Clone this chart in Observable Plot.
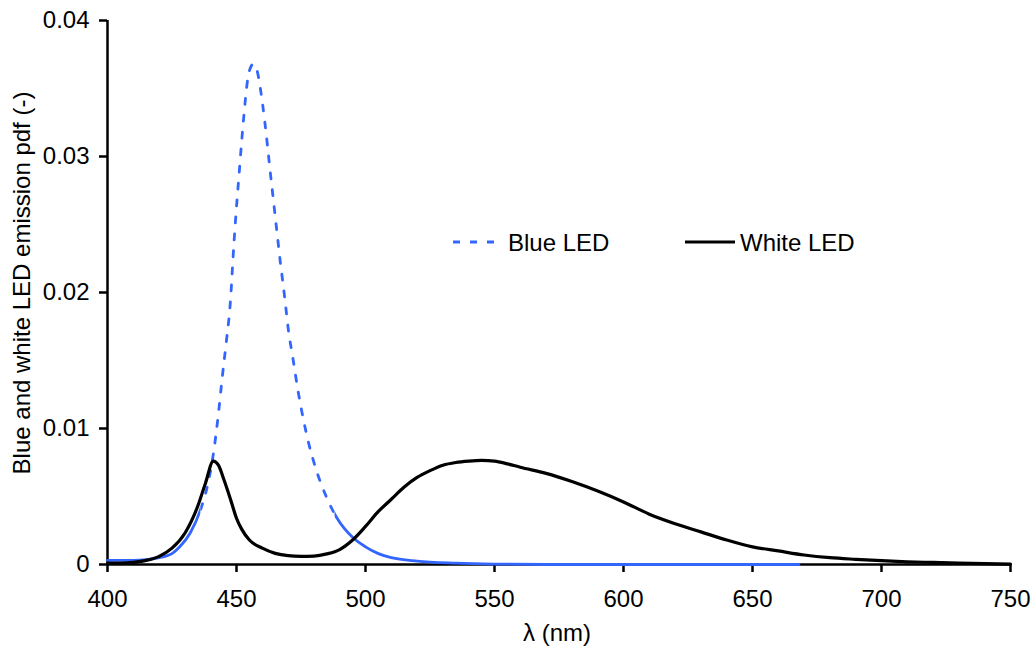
<!DOCTYPE html>
<html><head><meta charset="utf-8">
<script src="https://cdn.jsdelivr.net/npm/d3@7"></script>
<script src="https://cdn.jsdelivr.net/npm/@observablehq/plot@0.6"></script>
<style>body{margin:0;background:#fff}</style>
</head><body><div id="chart"></div>
<script>
// ---- data ----
const xTicks = [400, 450, 500, 550, 600, 650, 700, 750];
const yTicks = [0, 0.01, 0.02, 0.03, 0.04];
const seriesNames = ["Blue LED", "White LED"];

const blueX = [400,410,415,420,425,428,432,436,439,441,443,444.5,446,447.5,449,450,451,452,453,454,455,456.5,458,459,460,461,462,463,464,465,466,467,468,469,470,472,474,476,478,481,485,489,495,500,505,510,520,535,550,570,620,668];
const blueY = [0.0003,0.0003,0.00035,0.0005,0.0008,0.0013,0.0023,0.0040,0.0060,0.0081,0.0111,0.0138,0.0163,0.0190,0.0236,0.0263,0.0287,0.0311,0.0333,0.0352,0.0363,0.0368,0.0363,0.0353,0.0340,0.0325,0.0308,0.0290,0.0273,0.0256,0.0239,0.0222,0.0207,0.0191,0.0174,0.0150,0.0126,0.0106,0.0089,0.0069,0.0049,0.0034,0.0020,0.0013,0.0008,0.0005,0.00025,0.0001,0.00003,0,0,0];

const whiteX = [400,405,410,415,420,425,430,435,438,441,443,445,448,450,452,455,460,465,470,475,480,485,490,495,500,505,510,515,520,525,530,535,540,545,550,555,560,570,580,590,600,610,620,630,640,650,660,670,680,690,700,710,720,730,740,750];
const whiteY = [0.0001,0.0001,0.00015,0.0003,0.0006,0.0012,0.0023,0.0043,0.0060,0.0076,0.0073,0.0063,0.0046,0.0034,0.0026,0.0018,0.0012,0.00082,0.00065,0.0006,0.00062,0.00078,0.0011,0.0018,0.0028,0.0039,0.0048,0.0057,0.0064,0.0069,0.0073,0.0075,0.0076,0.00765,0.0076,0.0074,0.00715,0.0067,0.0061,0.0054,0.0046,0.0037,0.0030,0.0024,0.0018,0.0013,0.0010,0.0007,0.0005,0.00038,0.00028,0.0002,0.00015,0.0001,0.00006,0.00003];

// wavelength range where the blue series is drawn dashed (elsewhere it looks solid)
const blueDashedRange = [436, 488];

const blueColor = "#3366FF";
const blue = blueX.map((x, i) => ({x, y: blueY[i]}));
const white = whiteX.map((x, i) => ({x, y: whiteY[i]}));

const font = "'Liberation Sans', Arial, sans-serif";
const lineOpts = {x: "x", y: "y", curve: "monotone-x"};
const W = 1034, H = 649, ML = 107, MR = 24;

const chart = Plot.plot({
  width: W, height: H,
  marginLeft: ML, marginRight: MR, marginTop: 20, marginBottom: 85,
  style: {fontFamily: font, fontSize: "24px", background: "white", color: "black"},
  x: {domain: [400, 750], ticks: xTicks, tickSize: 8, tickPadding: 17, label: null, tickFormat: d => String(d)},
  y: {domain: [0, 0.04], ticks: yTicks, tickSize: 8, tickPadding: 10, label: null,
      tickFormat: d => d === 0 ? "0" : d3.format(".2f")(d)},
  marks: [
    Plot.ruleX([400], {strokeWidth: 2.5, stroke: "black"}),
    Plot.ruleY([0], {strokeWidth: 2.5, stroke: "black"}),
    Plot.line(blue, {...lineOpts, stroke: blueColor, strokeWidth: 2.8}),
    Plot.line(blue, {...lineOpts, stroke: blueColor, strokeWidth: 2.8, strokeDasharray: "6,11"}),
    Plot.line(blue, {...lineOpts, stroke: blueColor, strokeWidth: 2.8}),
    Plot.line(white, {...lineOpts, stroke: "black", strokeWidth: 3.2})
  ]
});

const svg = d3.select(chart);
svg.selectAll('g[aria-label^="x-axis"] path, g[aria-label^="x-axis"] line, g[aria-label^="y-axis"] path, g[aria-label^="y-axis"] line')
  .attr("stroke-width", 2.5).attr("stroke", "black");
svg.selectAll('g[aria-label^="x-axis"] text, g[aria-label^="y-axis"] text').attr("fill", "black");

// clip the three blue copies to their wavelength ranges
let xpix;
try { xpix = v => chart.scale("x").apply(v); if (!isFinite(xpix(450))) throw 0; }
catch (e) { xpix = v => ML + (v - 400) / 350 * (W - ML - MR); }
const cuts = [0, xpix(blueDashedRange[0]), xpix(blueDashedRange[1]), W];
const defs = svg.append("defs");
const blueGroups = svg.selectAll("g").filter(function () {
  const s = (this.getAttribute("stroke") || "").toLowerCase();
  return s === blueColor.toLowerCase();
}).nodes();
blueGroups.slice(0, 3).forEach((g, i) => {
  defs.append("clipPath").attr("id", "blueclip" + i).attr("clipPathUnits", "userSpaceOnUse")
    .append("rect").attr("x", cuts[i]).attr("y", -10).attr("width", cuts[i + 1] - cuts[i]).attr("height", H + 20);
  d3.select(g).attr("clip-path", `url(#blueclip${i})`);
});

// axis titles
svg.append("text").attr("x", 557).attr("y", 641).attr("text-anchor", "middle")
  .attr("font-family", font).attr("font-size", 24).text("λ (nm)");
svg.append("text").attr("transform", "translate(30,283) rotate(-90)").attr("text-anchor", "middle")
  .attr("font-family", font).attr("font-size", 24).text("Blue and white LED emission pdf (-)");
// legend
svg.append("line").attr("x1", 453).attr("x2", 494).attr("y1", 242).attr("y2", 242)
  .attr("stroke", blueColor).attr("stroke-width", 3).attr("stroke-dasharray", "7,10");
svg.append("text").attr("x", 508).attr("y", 250.5).attr("text-anchor", "start")
  .attr("font-family", font).attr("font-size", 24).text(seriesNames[0]);
svg.append("line").attr("x1", 685).attr("x2", 735).attr("y1", 242).attr("y2", 242)
  .attr("stroke", "black").attr("stroke-width", 3);
svg.append("text").attr("x", 740).attr("y", 250.5).attr("text-anchor", "start")
  .attr("font-family", font).attr("font-size", 24).text(seriesNames[1]);

document.getElementById("chart").appendChild(chart);
</script>
</body></html>
